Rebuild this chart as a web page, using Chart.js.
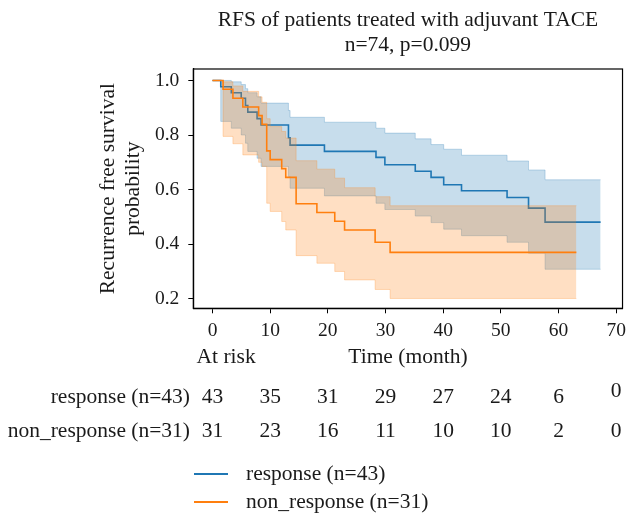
<!DOCTYPE html>
<html>
<head>
<meta charset="utf-8">
<title>RFS adjuvant TACE</title>
<script src="https://cdn.jsdelivr.net/npm/chart.js@4.4.0/dist/chart.umd.min.js"></script>
<style>
    html, body { margin: 0; padding: 0; background: #fff; }
    #wrap { width: 632px; height: 516px; position: relative; }
</style>
</head>
<body>
<div id="wrap"><canvas id="kmChart"></canvas></div>
<script>
// Kaplan-Meier steps: value after each event time
const responseTime  = [0, 1.43, 3.26, 4.98, 5.72, 6.12, 7.73, 8.42, 13.17, 13.45, 19.41, 28.35, 29.89, 35.16, 37.9, 40.09, 43.18, 51.08, 54.8, 57.67, 67.3];
const responseSurv  = [1.0, 0.977, 0.955, 0.935, 0.908, 0.884, 0.86, 0.837, 0.79, 0.763, 0.74, 0.718, 0.691, 0.667, 0.645, 0.618, 0.596, 0.571, 0.532, 0.481, 0.481];
const responseUpper = [1.0, 1.0, 0.995, 0.985, 0.97, 0.955, 0.94, 0.917, 0.89, 0.865, 0.847, 0.825, 0.807, 0.786, 0.765, 0.748, 0.726, 0.705, 0.672, 0.636, 0.636];
const responseLower = [1.0, 0.85, 0.825, 0.80, 0.77, 0.74, 0.715, 0.685, 0.648, 0.605, 0.577, 0.55, 0.527, 0.503, 0.479, 0.455, 0.431, 0.407, 0.367, 0.308, 0.308];

const nonRespTime  = [0, 1.83, 3.54, 5.26, 8.0, 8.6, 9.4, 10.0, 12.0, 12.7, 14.5, 18.1, 21.2, 22.9, 28.2, 30.8, 63.1];
const nonRespSurv  = [1.0, 0.968, 0.935, 0.903, 0.871, 0.839, 0.742, 0.710, 0.677, 0.645, 0.548, 0.516, 0.484, 0.452, 0.407, 0.370, 0.370];
const nonRespUpper = [1.0, 0.995, 0.98, 0.96, 0.94, 0.92, 0.86, 0.831, 0.813, 0.789, 0.706, 0.675, 0.642, 0.607, 0.574, 0.541, 0.541];
const nonRespLower = [1.0, 0.795, 0.768, 0.727, 0.70, 0.685, 0.55, 0.52, 0.483, 0.452, 0.358, 0.33, 0.30, 0.269, 0.234, 0.201, 0.201];

const xTicks = [0, 10, 20, 30, 40, 50, 60, 70];
const yTicks = [0.2, 0.4, 0.6, 0.8, 1.0];

// numbers at risk under each x tick
const responseRisk = [43, 35, 31, 29, 27, 24, 6, 0];
const nonRespRisk  = [31, 23, 16, 11, 10, 10, 2, 0];

const groupLabels = ['response (n=43)', 'non_response (n=31)'];
const titleLines = ['RFS of patients treated with adjuvant TACE', 'n=74, p=0.099'];

const BLUE = '#1f77b4';
const ORANGE = '#ff7f0e';
const BLUE_BAND = 'rgba(31, 119, 180, 0.25)';
const ORANGE_BAND = 'rgba(255, 127, 14, 0.25)';
const SERIF = '"Liberation Serif", "Times New Roman", serif';
const TEXT = '#1a1a1a';
const LABEL_SIZE = 21.5;

function toPoints(ts, vs) {
    return ts.map((t, i) => ({ x: t, y: vs[i] }));
}

function bandLine(ts, vs, color, fill) {
    return {
        data: toPoints(ts, vs),
        borderColor: color,
        backgroundColor: color,
        borderWidth: 1,
        pointRadius: 0,
        stepped: true,
        fill: fill
    };
}

function curveLine(ts, vs, color) {
    return {
        data: toPoints(ts, vs),
        borderColor: color,
        borderWidth: 1.6,
        pointRadius: 0,
        stepped: true,
        fill: false
    };
}

// frame, titles, at-risk table and legend
const kmExtras = {
    id: 'kmExtras',
    afterDraw(chart) {
        const { ctx, chartArea: a } = chart;
        const x = chart.scales.x;
        ctx.save();
        ctx.strokeStyle = '#000';
        ctx.lineWidth = 1.2;
        ctx.strokeRect(a.left, a.top, a.right - a.left, a.bottom - a.top);

        ctx.fillStyle = TEXT;
        ctx.font = LABEL_SIZE + 'px ' + SERIF;
        ctx.textBaseline = 'middle';
        ctx.textAlign = 'center';
        const cx = (a.left + a.right) / 2;
        ctx.fillText(titleLines[0], cx, 20);
        ctx.fillText(titleLines[1], cx, 45);
        ctx.fillText('Time (month)', cx, 357);

        ctx.textAlign = 'left';
        ctx.fillText('At risk', x.getPixelForValue(0) - 16, 357);

        // at-risk rows
        ctx.textAlign = 'right';
        ctx.fillText(groupLabels[0], 190, 397);
        ctx.fillText(groupLabels[1], 190, 431);
        ctx.textAlign = 'center';
        xTicks.forEach((t, i) => {
            const px = x.getPixelForValue(t);
            const last = i === xTicks.length - 1;
            ctx.fillText(String(responseRisk[i]), px, last ? 391 : 397);
            ctx.fillText(String(nonRespRisk[i]), px, 431);
        });

        // legend
        const rows = [[BLUE, groupLabels[0], 474], [ORANGE, groupLabels[1], 502]];
        ctx.lineWidth = 2;
        ctx.textAlign = 'left';
        rows.forEach(([c, label, y]) => {
            ctx.strokeStyle = c;
            ctx.beginPath();
            ctx.moveTo(194, y);
            ctx.lineTo(228, y);
            ctx.stroke();
            ctx.fillText(label, 246, y);
        });
        ctx.restore();
    }
};

// drawn last-to-first: blue band, blue curve, orange band, orange curve
const datasets = [
    curveLine(nonRespTime, nonRespSurv, ORANGE),
    bandLine(nonRespTime, nonRespLower, ORANGE_BAND, false),
    bandLine(nonRespTime, nonRespUpper, ORANGE_BAND, '-1'),
    curveLine(responseTime, responseSurv, BLUE),
    bandLine(responseTime, responseLower, BLUE_BAND, false),
    bandLine(responseTime, responseUpper, BLUE_BAND, '-1')
];

new Chart(document.getElementById('kmChart'), {
    type: 'line',
    data: { datasets: datasets },
    options: {
        responsive: true,
        maintainAspectRatio: false,
        animation: false,
        layout: { padding: { top: 69, right: 5, bottom: 0, left: 0 } },
        plugins: {
            legend: { display: false },
            tooltip: { enabled: false },
            filler: { drawTime: 'beforeDatasetDraw' }
        },
        scales: {
            x: {
                type: 'linear',
                min: -3.33,
                max: 71.1,
                afterBuildTicks: (axis) => { axis.ticks = xTicks.map(v => ({ value: v })); },
                afterFit: (axis) => { axis.height = 207.7; },
                grid: { drawOnChartArea: false, color: '#000', tickLength: 5 },
                border: { display: true, color: '#000', width: 1.2 },
                ticks: {
                    color: TEXT,
                    padding: 6,
                    maxRotation: 0,
                    font: { family: SERIF, size: 19.5 },
                    callback: (v) => String(v)
                }
            },
            y: {
                type: 'linear',
                min: 0.165,
                max: 1.042,
                afterBuildTicks: (axis) => { axis.ticks = yTicks.map(v => ({ value: v })); },
                afterFit: (axis) => { axis.width = 193.3; },
                grid: { drawOnChartArea: false, color: '#000', tickLength: 5 },
                border: { display: true, color: '#000', width: 1.2 },
                ticks: {
                    color: TEXT,
                    padding: 9,
                    font: { family: SERIF, size: 19.5 },
                    callback: (v) => v.toFixed(1)
                },
                title: {
                    display: true,
                    text: ['Recurrence free survival', 'probability'],
                    color: TEXT,
                    font: { family: SERIF, size: LABEL_SIZE, lineHeight: 1.16 },
                    padding: { top: 95.5, bottom: 0 }
                }
            }
        }
    },
    plugins: [kmExtras]
});
</script>
</body>
</html>
